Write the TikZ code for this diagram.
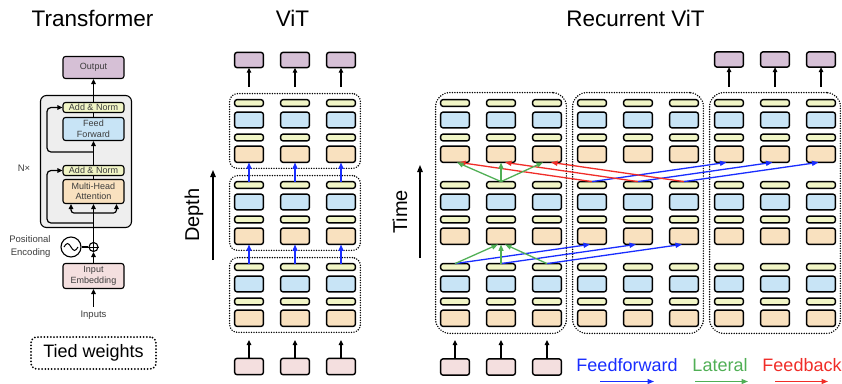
\documentclass[tikz,border=0pt]{standalone}
\usepackage{fontspec}
\setmainfont{Liberation Sans}
\usetikzlibrary{arrows.meta,fit,calc}
\definecolor{cpur}{RGB}{214,192,214}
\definecolor{cyel}{RGB}{241,245,198}
\definecolor{cblu}{RGB}{200,228,246}
\definecolor{cora}{RGB}{249,225,191}
\definecolor{cpnk}{RGB}{244,223,223}
\definecolor{cgry}{RGB}{238,238,238}
\definecolor{ffb}{RGB}{25,45,255}
\definecolor{latg}{RGB}{80,175,85}
\definecolor{fbr}{RGB}{240,45,40}
\definecolor{ttxt}{RGB}{60,60,60}
\begin{document}
\begin{tikzpicture}[x=1pt,y=-1pt,
  cellbox/.style={draw, line width=1.4pt, rounded corners=2.5pt, minimum width=28.8pt, inner sep=0pt, outer sep=0pt},
  ycell/.style={cellbox, fill=cyel, minimum height=6.8pt},
  bcell/.style={cellbox, fill=cblu, minimum height=15.8pt},
  ocell/.style={cellbox, fill=cora, minimum height=16.3pt},
  pcell/.style={cellbox, fill=cpur, minimum height=15.3pt},
  icell/.style={cellbox, fill=cpnk, minimum height=16.3pt},
  dotbox/.style={draw, line width=1.6pt, dash pattern=on 0pt off 2.5pt, line cap=round, inner xsep=5pt, inner ysep=6pt},
  arr/.style={-{Triangle[length=5pt,width=4.5pt]}, line width=1.2pt},
  fwd/.style={-{Triangle[length=6.5pt,width=5pt]}, line width=1.3pt, draw=ffb, color=ffb},
  lat/.style={-{Triangle[length=6.5pt,width=5pt]}, line width=1.3pt, draw=latg, color=latg},
  fbk/.style={-{Triangle[length=6.5pt,width=5pt]}, line width=1.3pt, draw=fbr, color=fbr},
  tbox/.style={draw, line width=1.1pt, rounded corners=2.5pt, minimum width=61pt, inner sep=0pt, align=center, text=ttxt, font=\fontsize{9}{10.5}\selectfont},
  ttl/.style={anchor=base, font=\fontsize{22.5}{27}\selectfont},
  axl/.style={rotate=90, font=\fontsize{20}{24}\selectfont}
]
\useasboundingbox (0,0) rectangle (842,383);

% ---------------- titles
\node[ttl] (t1) at (92.5,26) {Transformer};
\node[ttl] (t2) at (292.5,26) {ViT};
\node[ttl] (t3) at (635.5,26) {Recurrent ViT};

% ---------------- Transformer panel
\node[draw, line width=1.1pt, fill=cgry, rounded corners=6pt, minimum width=91pt, minimum height=132pt] (stack) at (86,161.5) {};
\node[tbox, fill=cpur, minimum height=22pt] (out) at (93.5,67.5) {Output};
\node[tbox, fill=cyel, minimum height=10pt] (an2) at (93.5,107.5) {Add \& Norm};
\node[tbox, fill=cblu, minimum height=23pt] (ffn) at (93.5,129) {Feed\\Forward};
\node[tbox, fill=cyel, minimum height=10pt] (an1) at (93.5,170.5) {Add \& Norm};
\node[tbox, fill=cora, minimum height=24pt] (mha) at (93.5,191.5) {Multi-Head\\Attention};
\node[tbox, fill=cpnk, minimum height=25pt] (emb) at (93.5,276) {Input\\Embedding};
\node[circle, draw, line width=1.1pt, minimum size=9pt, inner sep=0pt] (plus) at (93.5,247) {};
\draw[line width=0.9pt] (plus.north) -- (plus.south) (plus.west) -- (plus.east);
\node[circle, draw, line width=1.1pt, minimum size=20pt, inner sep=0pt] (pe) at (71,247) {};
\draw[line width=1pt] ([xshift=-7pt]pe.center) sin ++(3.5pt,3.5pt) cos ++(3.5pt,-3.5pt) sin ++(3.5pt,-3.5pt) cos ++(3.5pt,3.5pt);
\node[anchor=east, align=right, text=ttxt, font=\fontsize{9.5}{12.5}\selectfont] (pelab) at (54,246.5) {Positional\\Encoding};
\node[text=ttxt, font=\fontsize{9.5}{11}\selectfont] (nx) at (24,168) {N×};
\node[text=ttxt, font=\fontsize{9.5}{11}\selectfont, inner sep=4pt] (inp) at (93.5,315) {Inputs};

\draw[arr] (inp.north) -- (emb.south);
\draw[arr] (emb.north) -- (plus.south);
\draw[line width=1.1pt] (pe.east) -- (plus.west);
\draw[arr] (plus.north) -- (mha.south);
\coordinate (br) at (93.5,213);
\draw[arr, rounded corners=3pt] (br) -| ([xshift=-22.5pt]mha.south);
\draw[arr, rounded corners=3pt] (br) -| ([xshift=23pt]mha.south);
\coordinate (r1) at (93.5,223);
\coordinate (r1c) at (47,223);
\draw[arr, rounded corners=4pt] (r1) -- (r1c) |- (an1.west);
\draw[line width=1.2pt] (mha.north) -- (an1.south);
\draw[arr] (an1.north) -- (ffn.south);
\coordinate (r2) at (93.5,152);
\coordinate (r2c) at (47,152);
\draw[arr, rounded corners=4pt] (r2) -- (r2c) |- (an2.west);
\draw[line width=1.2pt] (ffn.north) -- (an2.south);
\draw[arr] (an2.north) -- (out.south);

\node[draw, line width=2pt, dash pattern=on 0pt off 3.2pt, line cap=round, rounded corners=6pt, minimum width=125pt, minimum height=32pt, font=\fontsize{18}{21}\selectfont] (tied) at (93.5,353) {Tied weights};

% ---------------- layer cells (ViT = v, recurrent steps a,b,c)
\foreach \P/\xo in {v/249,a/455,b/592,c/729}{
  \foreach \k/\yt in {1/263,2/181,3/99}{
    \foreach \j in {0,1,2}{
      \pgfmathsetmacro\xx{\xo+46*\j}
      \node[ycell] (\P-\k-\j-y) at (\xx,\yt+4) {};
      \node[bcell] (\P-\k-\j-b) at (\xx,\yt+21) {};
      \node[ycell] (\P-\k-\j-z) at (\xx,\yt+38.5) {};
      \node[ocell] (\P-\k-\j-o) at (\xx,\yt+55.25) {};
    }
  }
}

% ViT block frames
\foreach \k in {1,2,3}{
  \node[dotbox, rounded corners=8pt, fit=(v-\k-0-y)(v-\k-2-o)] (vb\k) {};
}
% Recurrent step frames
\foreach \P in {a,b,c}{
  \node[dotbox, rounded corners=14pt, inner ysep=7pt, fit=(\P-3-0-y)(\P-1-2-o)] (st\P) {};
}

% depth / time axes
\node[axl] (dlab) at (194,215) {Depth};
\coordinate (d0) at (213,260);
\coordinate (d1) at (213,170);
\draw[arr, -{Triangle[length=7pt,width=5.5pt]}] (d0) -- (d1);
\node[axl] (tlab) at (400,212) {Time};
\coordinate (tm0) at (420,258);
\coordinate (tm1) at (420,165);
\draw[arr, -{Triangle[length=7pt,width=5.5pt]}] (tm0) -- (tm1);

% ViT inputs / outputs and feedforward arrows
\foreach \j in {0,1,2}{
  \pgfmathsetmacro\xx{249+46*\j}
  \node[pcell] (vo\j) at (\xx,60) {};
  \coordinate (vs\j) at (\xx,87);
  \draw[arr] (vs\j) -- (vo\j.south);
  \node[icell] (vi\j) at (\xx,366.5) {};
  \coordinate (ve\j) at (\xx,340);
  \draw[arr] (vi\j.north) -- (ve\j);
  \draw[fwd] (v-1-\j-y.north) -- (v-2-\j-o.south);
  \draw[fwd] (v-2-\j-y.north) -- (v-3-\j-o.south);
}

% Recurrent inputs (step a) / outputs (step c)
\foreach \j in {0,1,2}{
  \pgfmathsetmacro\xx{455+46*\j}
  \node[icell] (ri\j) at (\xx,367) {};
  \coordinate (re\j) at (\xx,340);
  \draw[arr] (ri\j.north) -- (re\j);
  \pgfmathsetmacro\xc{729+46*\j}
  \node[pcell] (ro\j) at (\xc,59.5) {};
  \coordinate (rs\j) at (\xc,87);
  \draw[arr] (rs\j) -- (ro\j.south);
}

% feedforward / feedback across time
\foreach \j in {0,1,2}{
  \draw[fwd] (a-1-\j-y.north) -- ([xshift=-2pt]b-2-\j-o.south);
  \draw[fbk] (b-2-\j-y.north) -- ([xshift=4pt]a-3-\j-o.south);
  \draw[fwd] (b-2-\j-y.north) -- ([xshift=-2.5pt]c-3-\j-o.south);
}
% lateral
\draw[lat] (a-1-0-y.north) -- ([xshift=-3pt]a-2-1-o.south);
\draw[lat] (a-1-1-y.north) -- (a-2-1-o.south);
\draw[lat] (a-1-2-y.north) -- ([xshift=4pt]a-2-1-o.south);
\draw[lat] (a-2-1-y.north) -- ([xshift=2pt]a-3-0-o.south);
\draw[lat] (a-2-1-y.north) -- (a-3-1-o.south);
\draw[lat] (a-2-1-y.north) -- ([xshift=-4pt]a-3-2-o.south);

% legend
\node[anchor=base, text=ffb, font=\fontsize{18}{21}\selectfont] (lg1) at (627,371) {Feedforward};
\node[anchor=base, text=latg, font=\fontsize{18}{21}\selectfont] (lg2) at (720,371) {Lateral};
\node[anchor=base, text=fbr, font=\fontsize{18}{21}\selectfont] (lg3) at (802,371) {Feedback};
\coordinate (la0) at (600,381.5); \coordinate (la1) at (654,381.5);
\coordinate (lb0) at (695,381.5); \coordinate (lb1) at (748,381.5);
\coordinate (lc0) at (775,381.5); \coordinate (lc1) at (828,381.5);
\draw[fwd] (la0) -- (la1);
\draw[lat] (lb0) -- (lb1);
\draw[fbk] (lc0) -- (lc1);
\end{tikzpicture}
\end{document}
